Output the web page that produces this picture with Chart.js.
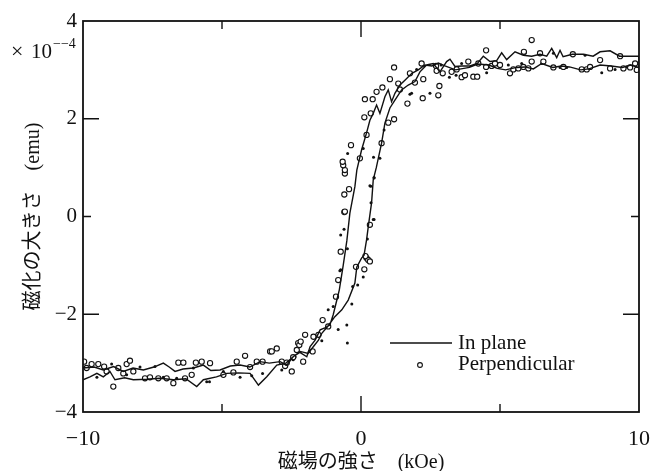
<!DOCTYPE html>
<html>
<head>
<meta charset="utf-8">
<script src="https://cdn.jsdelivr.net/npm/chart.js@4/dist/chart.umd.min.js"></script>
<style>
  html, body { margin: 0; padding: 0; background: #fff; }
  canvas { display: block; }
</style>
</head>
<body>
<canvas id="loopChart" width="661" height="471"></canvas>
<script>
// ==========================================================
// DATOS (H en kOe, M en unidades de 1e-4 emu)
// ==========================================================
const xTickValues = [-10, 0, 10];
const yTickValues = [-4, -2, 0, 2, 4];
const xMinorTicks = [-5, 0, 5];
const yMinorTicks = [-2, 0, 2];

const seriesNames = ['In plane', 'Perpendicular'];

// lazo "In plane": rama ascendente y luego rama descendente
const inPlaneH = [
  -10, -9.6, -9.27, -8.9, -8.55, -8.2, -7.83, -7.45, -7.11, -6.9, -6.69, -6.4, -6.03, -5.67, -5.4, -5.07,
  -4.7, -4.35, -4.0, -3.63, -3.3, -2.91, -2.67, -2.44, -2.19, -1.9, -1.71, -1.53, -1.41, -1.2, -0.94,
  -0.69, -0.46, -0.22, -0.15, 0.02, 0.11, 0.2, 0.28, 0.38, 0.44, 0.55, 0.74, 0.86, 1.04, 1.22, 1.46,
  1.7, 1.94, 2.12, 2.36, 2.6, 2.84, 3.08, 3.2, 3.38, 3.62, 3.92, 4.2, 4.4, 4.64, 4.88, 5.06, 5.24,
  5.54, 5.84, 6.14, 6.44, 6.68, 6.86, 7.04, 7.16, 7.27, 7.6, 8.0, 8.35, 8.6, 8.96, 9.3, 10,
  10, 9.7, 9.4, 9.0, 8.6, 8.2, 7.9, 7.5, 7.2, 6.9, 6.5, 6.2, 5.9, 5.6, 5.2, 4.9, 4.6, 4.2, 3.9,
  3.4, 3.02, 2.78, 2.55, 2.3, 2.06, 1.83, 1.58, 1.4, 1.22, 1.1, 0.98, 0.86, 0.68, 0.56, 0.44, 0.32,
  0.2, 0.02, -0.15, -0.22, -0.4, -0.51, -0.64, -0.78, -0.9, -1.0, -1.12, -1.3, -1.47, -1.65, -1.83,
  -1.95, -2.2, -2.44, -2.7, -3.03, -3.39, -3.69, -3.99, -4.4, -4.83, -5.2, -5.67, -5.91, -6.3, -6.75,
  -7.23, -7.71, -8.19, -8.5, -8.85, -9.03, -9.27, -9.5, -9.75, -10
];
const inPlaneM = [
  -3.1, -3.08, -3.14, -3.07, -3.17, -3.1, -3.14, -3.08, -3.0, -3.08, -3.17, -3.12, -3.1, -3.04, -3.15, -3.14,
  -3.06, -3.04, -3.08, -2.97, -3.0, -2.97, -3.04, -2.87, -2.76, -2.8, -2.66, -2.53, -2.39, -2.25, -2.05,
  -1.91, -1.71, -1.36, -1.03, -0.85, -0.79, -0.48, -0.13, 0.28, 0.75, 1.0, 1.5, 1.91, 2.22, 2.38, 2.59,
  2.69, 2.76, 2.96, 3.1, 3.13, 2.96, 3.17, 3.22, 3.07, 3.08, 3.08, 3.14, 3.28, 3.17, 3.19, 3.35, 3.21,
  3.37, 3.3, 3.28, 3.32, 3.28, 3.44, 3.25, 3.4, 3.27, 3.32, 3.32, 3.28, 3.37, 3.39, 3.28, 3.28,
  3.05, 3.1, 3.05, 3.08, 3.1, 3.02, 3.0, 3.06, 3.08, 3.05, 3.13, 3.02, 3.06, 3.05, 3.0, 3.03, 3.1, 3.12, 3.05,
  3.0, 3.08, 3.14, 3.08, 3.1, 3.0, 2.93, 2.79, 2.69, 2.52, 2.35, 2.59, 2.45, 2.11, 2.28, 2.11, 1.97,
  1.71, 1.36, 0.95, 0.61, 0.07, -0.5, -1.0, -1.5, -1.78, -2.01, -2.22, -2.28, -2.32, -2.53, -2.66,
  -2.87, -2.78, -2.87, -3.0, -3.04, -3.28, -3.45, -3.21, -3.2, -3.21, -3.28, -3.34, -3.48, -3.32, -3.34,
  -3.31, -3.33, -3.34, -3.3, -3.34, -3.17, -3.28, -3.21, -3.28, -3.34
];

// círculos abiertos "Perpendicular"
const perpH = [
  -9.96, -9.87, -9.69, -9.45, -9.24, -9.15, -8.91, -8.73, -8.55, -8.43, -8.31, -8.19, -7.77, -7.59, -7.29,
  -6.99, -6.75, -6.57, -6.39, -6.33, -6.09, -5.94, -5.73, -5.43, -4.95, -4.59, -4.47, -4.17, -3.99, -3.75,
  -3.54, -3.27, -3.21, -3.03, -2.85, -2.73, -2.67, -2.49, -2.44, -2.31, -2.26, -2.22, -2.17, -2.08, -2.01,
  -1.74, -1.71, -1.53, -1.38, -1.18, -0.9, -0.82, -0.73, -0.6, -0.58, -0.6, -0.43, -0.58, -0.58, -0.64,
  -0.66, -0.36, -0.04, 0.12, 0.14, 0.2, 0.35, 0.42, 0.56, 0.74, 0.77, 0.98, 1.04, 1.19, 1.19, 1.34, 1.4,
  1.67, 1.76, 1.94, 2.18, 2.22, 2.24, 2.7, 2.72, 2.78, 2.82, 2.94, 3.26, 3.44, 3.62, 3.74, 3.86, 4.04,
  4.18, 4.22, 4.5, 4.5, 4.7, 4.82, 5.0, 5.36, 5.48, 5.66, 5.84, 5.86, 6.02, 6.14, 6.14, 6.44, 6.56, 6.92,
  7.28, 7.62, 7.94, 8.12, 8.24, 8.6, 8.96, 9.32, 9.44, 9.68, 9.86, 9.92,
  -0.18, 0.12, 0.2, 0.26, 0.32, 0.32, 0.16
];
const perpM = [
  -2.97, -3.1, -3.02, -3.02, -3.07, -3.17, -3.48, -3.1, -3.21, -3.02, -2.95, -3.17, -3.31, -3.29, -3.31,
  -3.31, -3.41, -2.99, -2.99, -3.31, -3.24, -2.99, -2.97, -3.0, -3.24, -3.19, -2.97, -2.85, -3.08, -2.97,
  -2.97, -2.76, -2.76, -2.7, -2.97, -3.06, -2.99, -3.17, -2.88, -2.73, -2.59, -2.63, -2.56, -2.97, -2.42,
  -2.76, -2.46, -2.42, -2.12, -2.25, -1.64, -1.3, -0.72, 0.09, 0.1, 0.45, 0.56, 0.88, 0.95, 1.05,
  1.12, 1.46, 1.19, 2.03, 2.4, 1.67, 2.11, 2.4, 2.55, 1.5, 2.64, 1.92, 2.81, 1.99, 3.05, 2.72, 2.6,
  2.31, 2.93, 2.74, 3.13, 2.42, 2.81, 3.08, 2.98, 2.48, 2.67, 2.93, 2.96, 3.01, 2.85, 2.89, 3.17, 2.86,
  2.86, 3.13, 3.4, 3.06, 3.08, 3.13, 3.1, 2.93, 3.01, 3.03, 3.06, 3.37, 3.03, 3.61, 3.17, 3.34, 3.17, 3.05,
  3.06, 3.32, 3.01, 3.01, 3.06, 3.2, 3.03, 3.28, 3.03, 3.05, 3.13, 3.0,
  -1.03, -1.08, -0.85, -0.89, -0.92, -0.17, -0.81
];

// puntos pequeños rellenos
const dotsH = [
  0.35, 0.36, 0.44, 0.23, -0.61, -0.73, -0.49, -0.73, -0.3, -0.12, 0.47, 0.08, 0.26,
  -0.48, 0.08, 0.45, 0.68, 0.83, 1.76, 2.48, 2.0, 0.32, 0.47,
  -0.51, -0.49, -0.82, -1.18, -1.0, -0.33, 0.47, -0.76, -1.41, -2.37,
  -8.97, -9.5, -8.43, -7.95, -7.41, -7.11, -6.63, -6.03, -5.55, -5.45, -4.95, -4.35, -3.93, -3.54,
  -2.85, -2.44, -1.86,
  1.82, 2.88, 3.18, 3.42, 3.62, 4.52, 5.3, 5.78, 5.9, 6.5, 6.92, 7.16, 7.4, 8.06, 8.66, 9.14, 9.56
];
const dotsM = [
  0.62, 0.28, -0.06, -0.46, -0.26, -0.38, -0.66, -1.09, -1.43, -1.4, 0.8, -1.24, -0.89,
  1.29, 1.39, 1.21, 1.19, 1.77, 2.5, 2.52, 3.01, 0.63, 0.79,
  -2.22, -2.59, -2.31, -1.91, -1.84, -1.79, -0.06, -1.11, -2.54, -2.87,
  -3.02, -3.29, -3.24, -3.08, -3.07, -3.29, -3.31, -3.1, -3.38, -3.38, -3.17, -3.29, -3.26, -3.21,
  -3.14, -2.93, -2.76,
  2.52, 3.1, 2.85, 2.89, 3.13, 2.94, 3.1, 3.13, 3.34, 3.13, 3.34, 3.05, 3.05, 3.3, 2.94, 3.01, 3.06
];

const xTitle = '磁場の強さ　(kOe)';
const yTitle = '磁化の大きさ　(emu)';

// ==========================================================
// UTILIDADES
// ==========================================================
const SERIF = '"Liberation Serif", "DejaVu Serif", "Noto Sans CJK JP", serif';
const INK = '#111';

function toPoints(xs, ys) {
    return xs.map((x, i) => ({ x: x, y: ys[i] }));
}

function fmtNum(v) {
    return v < 0 ? '\u2212' + Math.abs(v) : String(v);
}

// ==========================================================
// PLUGIN: marco, ticks hacia dentro, leyenda y exponente
// ==========================================================
const framePlugin = {
    id: 'frame',
    afterDraw(chart) {
        const c = chart.ctx;
        const a = chart.chartArea;
        const sx = chart.scales.x;
        const sy = chart.scales.y;

        c.save();
        c.strokeStyle = INK;
        c.lineWidth = 1.8;
        c.strokeRect(a.left, a.top, a.right - a.left, a.bottom - a.top);

        c.lineWidth = 1.4;
        c.beginPath();
        xMinorTicks.forEach(v => {
            const px = sx.getPixelForValue(v);
            const len = v === 0 ? 16 : 8;
            c.moveTo(px, a.bottom); c.lineTo(px, a.bottom - len);
            c.moveTo(px, a.top);    c.lineTo(px, a.top + len);
        });
        yMinorTicks.forEach(v => {
            const py = sy.getPixelForValue(v);
            const len = v === 0 ? 8 : 16;
            c.moveTo(a.left, py);  c.lineTo(a.left + len, py);
            c.moveTo(a.right, py); c.lineTo(a.right - len, py);
        });
        c.stroke();

        // leyenda
        c.fillStyle = INK;
        c.font = '21px ' + SERIF;
        c.textBaseline = 'middle';
        c.textAlign = 'left';
        c.lineWidth = 1.3;
        c.beginPath();
        c.moveTo(390, 343); c.lineTo(452, 343);
        c.stroke();
        c.fillText(seriesNames[0], 458, 343);

        c.beginPath();
        c.arc(420, 365, 2.4, 0, Math.PI * 2);
        c.lineWidth = 1.1;
        c.stroke();
        c.fillText(seriesNames[1], 458, 364);

        // factor ×10^-4
        c.font = '22px ' + SERIF;
        c.fillText('\u00d7', 11, 52);
        c.font = '21px ' + SERIF;
        c.fillText('10', 31, 52);
        c.font = '14px ' + SERIF;
        c.fillText('\u2212\u2212' + '4', 53, 44);
        c.restore();
    }
};

// ==========================================================
// GRÁFICO
// ==========================================================
document.addEventListener('DOMContentLoaded', function () {
    const ctx = document.getElementById('loopChart').getContext('2d');

    new Chart(ctx, {
        type: 'scatter',
        data: {
            datasets: [
                {
                    label: seriesNames[0],
                    data: toPoints(inPlaneH, inPlaneM),
                    showLine: true,
                    borderColor: INK,
                    borderWidth: 1.4,
                    pointRadius: 0,
                    tension: 0
                },
                {
                    label: seriesNames[1],
                    data: toPoints(perpH, perpM),
                    showLine: false,
                    pointStyle: 'circle',
                    pointRadius: 2.6,
                    pointBorderWidth: 1.1,
                    pointBorderColor: INK,
                    pointBackgroundColor: '#fff'
                },
                {
                    label: 'dots',
                    data: toPoints(dotsH, dotsM),
                    showLine: false,
                    pointRadius: 1.5,
                    pointBorderWidth: 0,
                    pointBackgroundColor: INK
                }
            ]
        },
        options: {
            responsive: false,
            animation: false,
            layout: { padding: { top: 21, right: 22, left: 0, bottom: 0 } },
            plugins: {
                legend: { display: false },
                tooltip: { enabled: false }
            },
            scales: {
                x: {
                    type: 'linear',
                    min: -10,
                    max: 10,
                    afterBuildTicks: s => { s.ticks = xTickValues.map(v => ({ value: v })); },
                    afterFit: s => {
                        s.height = 59;
                        s.paddingLeft = 0;
                        s.paddingRight = 0;
                    },
                    grid: { display: false, drawTicks: false },
                    border: { display: false },
                    ticks: {
                        padding: 14,
                        color: INK,
                        font: { family: SERIF, size: 22 },
                        callback: v => fmtNum(v)
                    },
                    title: {
                        display: true,
                        text: xTitle,
                        color: INK,
                        font: { family: SERIF, size: 20 },
                        padding: { top: 0, bottom: -4 }
                    }
                },
                y: {
                    min: -4,
                    max: 4,
                    afterBuildTicks: s => { s.ticks = yTickValues.map(v => ({ value: v })); },
                    afterFit: s => {
                        s.width = 83;
                        s.paddingTop = 0;
                        s.paddingBottom = 0;
                    },
                    grid: { display: false, drawTicks: false },
                    border: { display: false },
                    ticks: {
                        padding: 6,
                        color: INK,
                        font: { family: SERIF, size: 21 },
                        callback: v => fmtNum(v)
                    },
                    title: {
                        display: true,
                        text: yTitle,
                        color: INK,
                        font: { family: SERIF, size: 20 },
                        padding: { top: 22, bottom: 0 }
                    }
                }
            }
        },
        plugins: [framePlugin]
    });
});
</script>
</body>
</html>
